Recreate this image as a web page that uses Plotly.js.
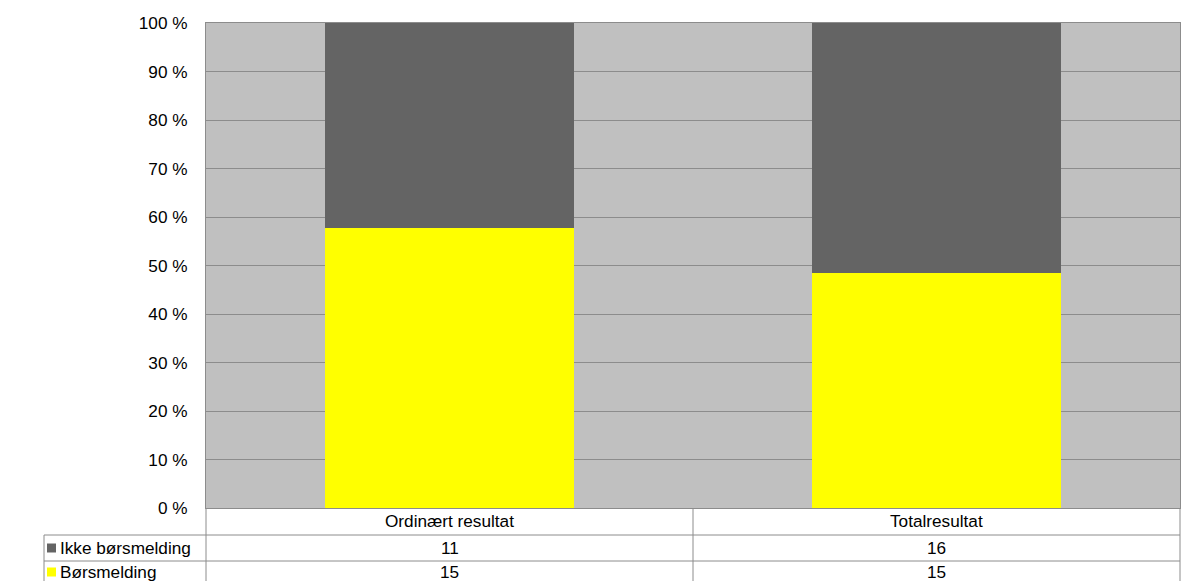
<!DOCTYPE html>
<html>
<head>
<meta charset="utf-8">
<script src="https://cdn.plot.ly/plotly-3.0.1.min.js"></script>
<style>html,body{margin:0;padding:0;background:#fff;}#chart{width:1186px;height:581px;}</style>
</head>
<body>
<div id="chart"></div>
<script>
const categories = ["Ordinært resultat", "Totalresultat"];
const seriesNames = ["Børsmelding", "Ikke børsmelding"];
const borsmelding = [15, 15];
const ikkeBorsmelding = [11, 16];
const seriesColors = ["#FFFF00", "#646464"];
const yTicks = [0, 10, 20, 30, 40, 50, 60, 70, 80, 90, 100];

const FONT = "Liberation Sans, Arial, sans-serif";
const FS = 17.2;
const plotL = 206, plotR = 1180, plotT = 23, plotB = 508, W = 1186, H = 581;
const pw = plotR - plotL, ph = plotB - plotT;
const px = x => (x - plotL) / pw;
const py = y => (plotB - y) / ph;

const traces = [
  {type: "bar", name: seriesNames[0], x: categories, y: borsmelding, marker: {color: seriesColors[0]}, hoverinfo: "x+y+name"},
  {type: "bar", name: seriesNames[1], x: categories, y: ikkeBorsmelding, marker: {color: seriesColors[1]}, hoverinfo: "x+y+name"}
];

const lineColor = "#8c8c8c";
const shapes = [];
function hline(x0, x1, y) { shapes.push({type: "line", xref: "paper", yref: "paper", x0: px(x0), x1: px(x1), y0: py(y), y1: py(y), line: {color: lineColor, width: 1}}); }
function vline(x, y0, y1) { shapes.push({type: "line", xref: "paper", yref: "paper", x0: px(x), x1: px(x), y0: py(y0), y1: py(y1), line: {color: lineColor, width: 1}}); }
// table grid
hline(44, plotR, 535);
hline(44, plotR, 561);
vline(44, 535, 600);
vline(plotL, plotB, 600);
vline((plotL + plotR) / 2, plotB, 600);
vline(plotR, plotB, 600);
// legend keys
const keyRows = [548, 572];
const keySeries = [1, 0];
keySeries.forEach((s, i) => {
  const cy = keyRows[i];
  shapes.push({type: "rect", xref: "paper", yref: "paper", x0: px(47), x1: px(56), y0: py(cy - 4.5), y1: py(cy + 4.5), fillcolor: seriesColors[s], line: {width: 0}});
});

const annotations = [];
categories.forEach((c, i) => {
  annotations.push({xref: "x", yref: "paper", x: c, y: py(521), text: c, showarrow: false, font: {family: FONT, size: FS, color: "#000"}, xanchor: "center", yanchor: "middle"});
  annotations.push({xref: "x", yref: "paper", x: c, y: py(548), text: String(ikkeBorsmelding[i]), showarrow: false, font: {family: FONT, size: FS, color: "#000"}, xanchor: "center", yanchor: "middle"});
  annotations.push({xref: "x", yref: "paper", x: c, y: py(572), text: String(borsmelding[i]), showarrow: false, font: {family: FONT, size: FS, color: "#000"}, xanchor: "center", yanchor: "middle"});
});
const rowSeries = [[seriesNames[1], 548], [seriesNames[0], 572]];
rowSeries.forEach(([name, y]) => {
  annotations.push({xref: "paper", yref: "paper", x: px(58), y: py(y), text: name, showarrow: false, font: {family: FONT, size: FS, color: "#000"}, xanchor: "left", yanchor: "middle"});
});

const layout = {
  width: W, height: H,
  margin: {l: plotL, r: W - plotR, t: plotT, b: H - plotB, pad: 0},
  paper_bgcolor: "#ffffff",
  plot_bgcolor: "#C0C0C0",
  barmode: "stack",
  barnorm: "percent",
  bargap: 0.489,
  showlegend: false,
  font: {family: FONT, size: FS, color: "#000"},
  xaxis: {showticklabels: false, showgrid: false, zeroline: false, showline: true, mirror: true, linecolor: lineColor, linewidth: 1, ticks: "", fixedrange: true},
  yaxis: {range: [0, 100], tickvals: yTicks, ticktext: yTicks.map(v => v + " %"), showgrid: true, gridcolor: lineColor, gridwidth: 1, zeroline: false, showline: true, mirror: true, linecolor: lineColor, linewidth: 1, ticks: "", ticklabelstandoff: 14, tickfont: {family: FONT, size: FS, color: "#000"}, fixedrange: true},
  shapes: shapes,
  annotations: annotations
};

Plotly.newPlot("chart", traces, layout, {displayModeBar: false, staticPlot: true});
</script>
</body>
</html>
